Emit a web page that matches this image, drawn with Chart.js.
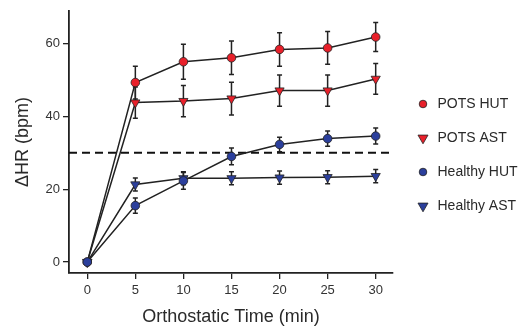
<!DOCTYPE html>
<html>
<head>
<meta charset="utf-8">
<script src="https://cdn.jsdelivr.net/npm/chart.js@4.4.1/dist/chart.umd.min.js"></script>
<style>
  html, body { margin: 0; padding: 0; background: #fff; }
  #wrap { width: 525px; height: 328px; position: relative; }
</style>
</head>
<body>
<div id="wrap"><canvas id="hrChart"></canvas></div>
<script>
// Tiempos (min) y valores
const times = [0, 5, 10, 15, 20, 25, 30];
const xTicks = [0, 5, 10, 15, 20, 25, 30];
const yTicks = [0, 20, 40, 60];
const seriesNames = ['POTS HUT', 'POTS AST', 'Healthy HUT', 'Healthy AST'];

const potsHut = [0, 49.3, 55.0, 56.1, 58.4, 58.8, 61.8];
const potsHutErr = [0, 4.5, 4.8, 4.6, 4.6, 4.5, 4.0];
const potsAst = [0, 43.8, 44.2, 44.9, 47.1, 47.1, 50.3];
const potsAstErr = [0, 4.3, 4.3, 4.5, 4.3, 4.3, 4.2];
const healthyHut = [0, 15.5, 22.3, 29.0, 32.3, 33.9, 34.6];
const healthyHutErr = [0, 2.1, 2.3, 2.3, 2.0, 2.1, 2.2];
const healthyAst = [0, 21.3, 23.0, 23.0, 23.2, 23.3, 23.6];
const healthyAstErr = [0, 1.8, 1.8, 1.8, 1.8, 1.8, 1.8];

const threshold = 30; // línea discontinua

const RED = '#e8202a';
const BLUE = '#2b3f9c';
const INK = '#222222';

function puntos(vals) {
    return times.map((t, i) => ({ x: t, y: vals[i] }));
}

function serie(label, vals, errs, color, style, order) {
    return {
        label: label,
        data: puntos(vals),
        errors: errs,
        borderColor: INK,
        borderWidth: 1.5,
        backgroundColor: color,
        pointBackgroundColor: color,
        pointBorderColor: INK,
        pointBorderWidth: 0.8,
        pointStyle: style,
        pointRadius: style === 'circle' ? 4.3 : 5.3,
        pointRotation: style === 'triangle' ? 180 : 0,
        tension: 0,
        order: order
    };
}

// Barras de error y línea discontinua debajo de las series
const extrasPlugin = {
    id: 'extras',
    beforeDatasetsDraw(chart) {
        const ctx = chart.ctx;
        const xs = chart.scales.x, ys = chart.scales.y;
        const area = chart.chartArea;

        ctx.save();
        ctx.strokeStyle = '#111';
        ctx.lineWidth = 2;
        ctx.setLineDash([8, 5]);
        const yT = ys.getPixelForValue(threshold);
        ctx.beginPath();
        ctx.moveTo(area.left, yT);
        ctx.lineTo(area.right, yT);
        ctx.stroke();
        ctx.restore();

        ctx.save();
        ctx.strokeStyle = INK;
        ctx.lineWidth = 1.5;
        chart.data.datasets.forEach(ds => {
            ds.data.forEach((p, i) => {
                const e = ds.errors[i];
                if (!e) return;
                const x = xs.getPixelForValue(p.x);
                const y1 = ys.getPixelForValue(p.y + e);
                const y2 = ys.getPixelForValue(p.y - e);
                ctx.beginPath();
                ctx.moveTo(x, y1); ctx.lineTo(x, y2);
                ctx.moveTo(x - 2.5, y1); ctx.lineTo(x + 2.5, y1);
                ctx.moveTo(x - 2.5, y2); ctx.lineTo(x + 2.5, y2);
                ctx.stroke();
            });
        });
        ctx.restore();
    },
    afterDraw(chart) {
        // Leyenda a la derecha
        const ctx = chart.ctx;
        const area = chart.chartArea;
        const lx = area.right + 30;
        ctx.save();
        seriesNames.forEach((name, k) => {
            const ds = chart.data.datasets.find(d => d.label === name);
            const y = 104 + k * 34;
            ctx.fillStyle = ds.pointBackgroundColor;
            ctx.strokeStyle = INK;
            ctx.lineWidth = 0.8;
            Chart.helpers.drawPoint(ctx, {
                pointStyle: ds.pointStyle,
                radius: ds.pointStyle === 'circle' ? 3.8 : 5.8,
                rotation: ds.pointRotation,
                borderWidth: 0.8
            }, lx, y);
            ctx.fillStyle = '#2a2a2a';
            ctx.font = '14px "Liberation Sans", Arial, sans-serif';
            ctx.textBaseline = 'middle';
            ctx.textAlign = 'left';
            ctx.fillText(name, lx + 14.5, y);
        });
        ctx.restore();
    }
};

const ctx = document.getElementById('hrChart').getContext('2d');
new Chart(ctx, {
    type: 'line',
    data: {
        datasets: [
            serie('POTS HUT', potsHut, potsHutErr, RED, 'circle', 3),
            serie('POTS AST', potsAst, potsAstErr, RED, 'triangle', 2),
            serie('Healthy HUT', healthyHut, healthyHutErr, BLUE, 'circle', 0),
            serie('Healthy AST', healthyAst, healthyAstErr, BLUE, 'triangle', 1)
        ]
    },
    options: {
        responsive: true,
        maintainAspectRatio: false,
        animation: false,
        events: [],
        layout: { padding: { top: 7, right: 132, left: 0, bottom: 0 } },
        plugins: {
            legend: { display: false },
            tooltip: { enabled: false }
        },
        scales: {
            x: {
                type: 'linear',
                min: -1.9,
                max: 31.8,
                afterBuildTicks: s => { s.ticks = xTicks.map(v => ({ value: v })); },
                afterFit: s => { s.height = 55; },
                grid: { display: true, drawOnChartArea: false, drawTicks: true, tickLength: 6, color: INK, lineWidth: 1.3 },
                border: { display: true, color: INK, width: 1.8 },
                ticks: { color: '#333', padding: 4, font: { family: '"Liberation Sans", Arial, sans-serif', size: 13 } },
                title: {
                    display: true,
                    text: 'Orthostatic Time (min)',
                    color: '#2a2a2a',
                    padding: { top: 0, bottom: 0 },
                    font: { family: '"Liberation Sans", Arial, sans-serif', size: 18 }
                }
            },
            y: {
                min: -3,
                max: 69,
                afterBuildTicks: s => { s.ticks = yTicks.map(v => ({ value: v })); },
                afterFit: s => { s.width = 69; },
                grid: { display: true, drawOnChartArea: false, drawTicks: true, tickLength: 6, color: INK, lineWidth: 1.3 },
                border: { display: true, color: INK, width: 1.8 },
                ticks: { color: '#333', padding: 3, font: { family: '"Liberation Sans", Arial, sans-serif', size: 13 } },
                title: {
                    display: true,
                    text: 'ΔHR (bpm)',
                    color: '#2a2a2a',
                    padding: { top: 12, bottom: 0 },
                    font: { family: '"Liberation Sans", Arial, sans-serif', size: 18 }
                }
            }
        }
    },
    plugins: [extrasPlugin]
});
</script>
</body>
</html>
